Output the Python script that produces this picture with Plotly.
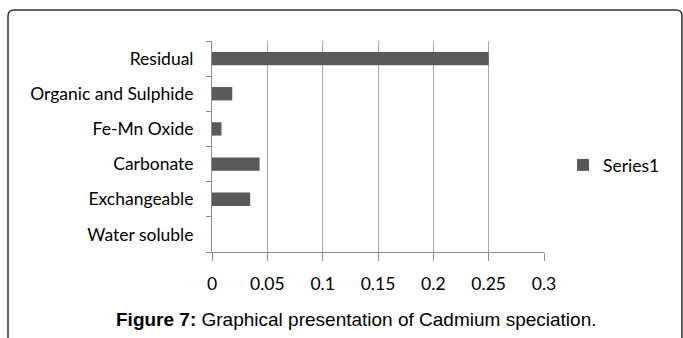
import plotly.graph_objects as go

# Cadmium speciation fractions (bottom to top)
fractions = ["Water soluble", "Exchangeable", "Carbonate", "Fe-Mn Oxide",
             "Organic and Sulphide", "Residual"]
cadmium = [0.0, 0.0345, 0.043, 0.0086, 0.0183, 0.25]
x_ticks = [0, 0.05, 0.1, 0.15, 0.2, 0.25, 0.3]
x_tick_text = ["0", "0.05", "0.1", "0.15", "0.2", "0.25", "0.3"]
series_name = "Series1"
caption = "<b>Figure 7:</b> Graphical presentation of Cadmium speciation."

W, H = 683, 338
L, R, T, B = 212, 544, 41, 252  # plot area edges in pixels
PW, PH = R - L, B - T


def px(x):
    return (x - L) / PW


def py(y):
    return (B - y) / PH


LABEL_FONT = "Lato, Liberation Sans, sans-serif"
LABEL_SIZE = 17.5

fig = go.Figure()
fig.add_trace(go.Bar(
    x=cadmium, y=fractions, orientation="h", name=series_name,
    marker=dict(color="#595959", line=dict(width=0)), width=0.38,
    showlegend=True,
))

# outer frame with rounded top corners
r = 6
x0, x1, y0, y1 = 8, 682, 10, 360
path = (f"M {px(x0)},{py(y1)} L {px(x0)},{py(y0 + r)} "
        f"Q {px(x0)},{py(y0)} {px(x0 + r)},{py(y0)} "
        f"L {px(x1 - r)},{py(y0)} Q {px(x1)},{py(y0)} {px(x1)},{py(y0 + r)} "
        f"L {px(x1)},{py(y1)}")

fig.update_layout(
    width=W, height=H,
    margin=dict(l=L, r=W - R, t=T, b=H - B, pad=0),
    paper_bgcolor="white", plot_bgcolor="white",
    font=dict(family=LABEL_FONT, size=LABEL_SIZE, color="#000000"),
    xaxis=dict(
        range=[0, 0.3], tickvals=x_ticks, ticktext=x_tick_text,
        showgrid=True, gridcolor="#a6a6a6", gridwidth=1,
        showline=True, linecolor="#8c8c8c", linewidth=1,
        ticks="outside", ticklen=8, tickcolor="#8c8c8c",
        zeroline=False, ticklabelstandoff=8,
        tickfont=dict(family=LABEL_FONT, size=LABEL_SIZE, color="#000"),
    ),
    yaxis=dict(
        type="category", categoryorder="array", categoryarray=fractions,
        range=[-0.5, 5.5], showgrid=False,
        showline=True, linecolor="#8c8c8c", linewidth=1,
        ticks="outside", ticklen=5, tickcolor="#8c8c8c", tickson="boundaries",
        ticklabelstandoff=14,
        tickfont=dict(family=LABEL_FONT, size=LABEL_SIZE, color="#000"),
    ),
    legend=dict(
        x=px(563), xanchor="left", y=py(165), yanchor="middle",
        font=dict(family=LABEL_FONT, size=LABEL_SIZE, color="#000"),
        bgcolor="rgba(0,0,0,0)", borderwidth=0, itemwidth=30,
    ),
    shapes=[dict(type="path", xref="paper", yref="paper", path=path,
                 line=dict(color="#333333", width=1.5), layer="above")],
    annotations=[dict(
        text=caption, xref="paper", yref="paper",
        x=px(356), y=py(319), xanchor="center", yanchor="middle",
        showarrow=False,
        font=dict(family="Liberation Sans, Arial, sans-serif", size=19, color="#000"),
    )],
    bargap=0.62,
)

fig.write_html("out.html")
